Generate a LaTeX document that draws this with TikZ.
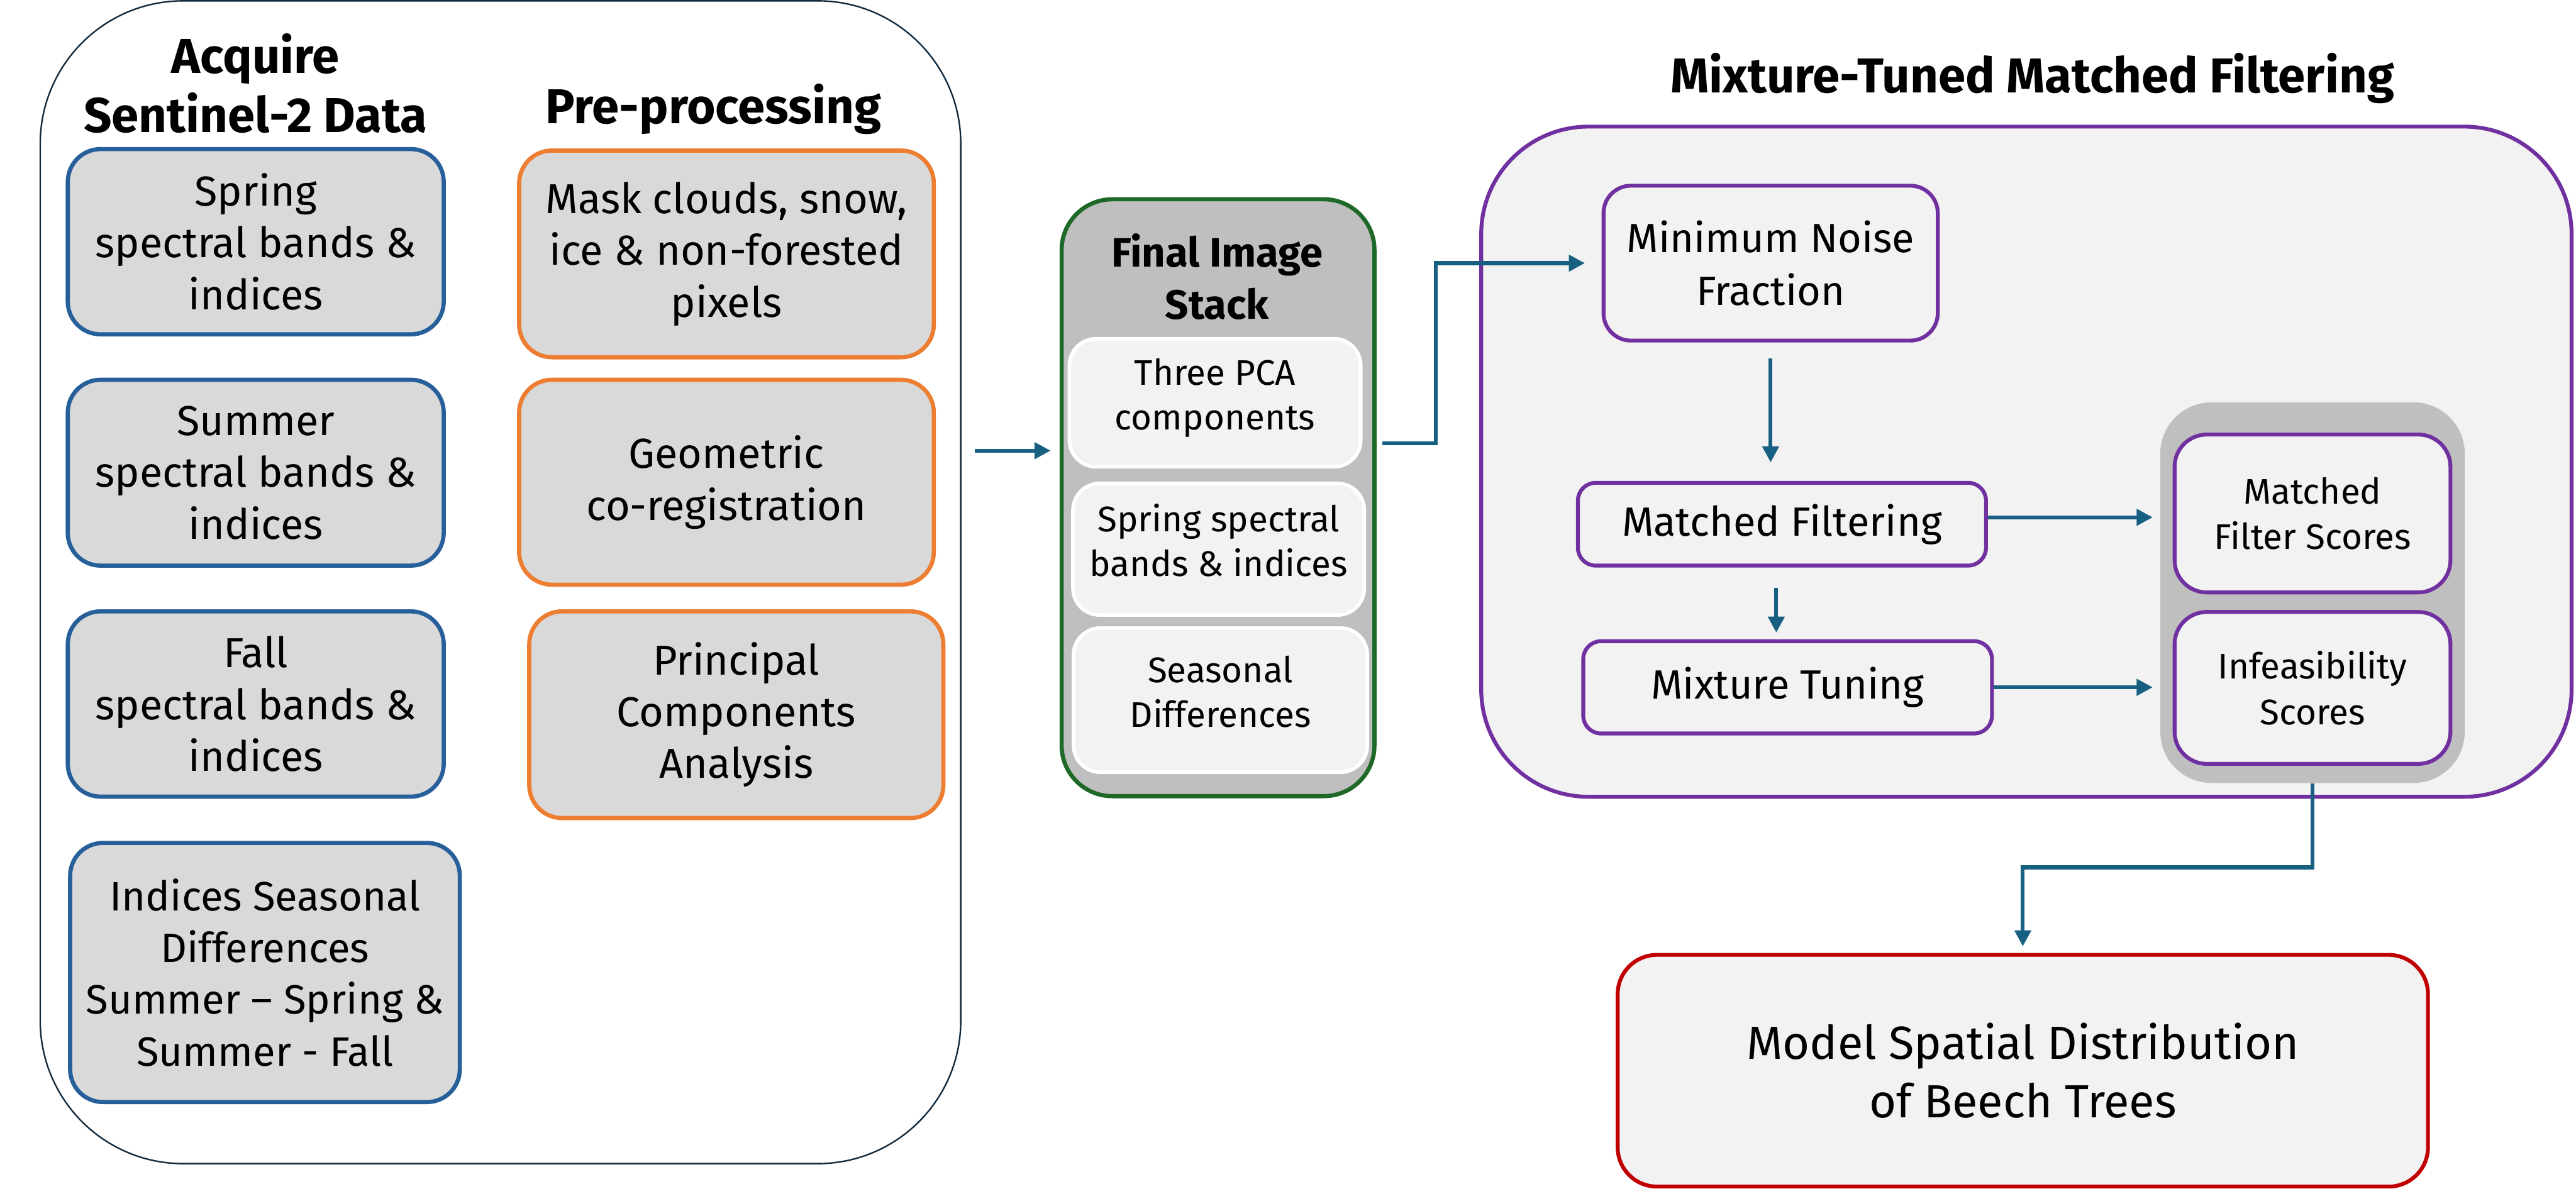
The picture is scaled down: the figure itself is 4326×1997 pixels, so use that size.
\documentclass[tikz,border=0pt]{standalone}
\usepackage{fontspec}
\setmainfont{Fira Sans}
\usetikzlibrary{arrows.meta}
\definecolor{bblue}{RGB}{38,95,153}
\definecolor{borange}{RGB}{237,125,49}
\definecolor{lgray}{RGB}{217,217,217}
\definecolor{mgray}{RGB}{191,191,191}
\definecolor{pale}{RGB}{242,242,242}
\definecolor{bgreen}{RGB}{30,105,40}
\definecolor{bpurple}{RGB}{112,48,160}
\definecolor{bred}{RGB}{192,0,0}
\definecolor{arrowc}{RGB}{24,96,130}
\definecolor{navy}{RGB}{18,42,62}
\tikzset{
  box/.style={inner sep=0pt, align=center, rounded corners=0.55cm},
  inbox/.style={box, draw=bblue, fill=lgray, line width=0.07cm, font=\fontsize{20pt}{24.75pt}\selectfont},
  prebox/.style={box, draw=borange, fill=lgray, line width=0.07cm, font=\fontsize{20pt}{24.75pt}\selectfont},
  stackitem/.style={box, rounded corners=0.45cm, draw=white, fill=pale, line width=0.06cm, font=\fontsize{17pt}{21.3pt}\selectfont},
  mtbox/.style={box, draw=bpurple, fill=pale, line width=0.065cm, rounded corners=0.46cm, font=\fontsize{19.5pt}{25.3pt}\selectfont},
  scorebox/.style={box, draw=bpurple, fill=pale, line width=0.065cm, rounded corners=0.54cm, font=\fontsize{17pt}{21.9pt}\selectfont},
  titletext/.style={font=\bfseries\fontsize{23.4pt}{28.5pt}\selectfont, align=center, inner sep=0pt},
  arr/.style={draw=arrowc, line width=0.064cm, -{Triangle[length=0.27cm,width=0.27cm]}},
}
\begin{document}
\begin{tikzpicture}[x=0.01cm,y=-0.01cm]
\useasboundingbox (0,0) rectangle (4326,1997);
% left container
\node[draw=navy, line width=0.025cm, rounded corners=2.4cm, minimum width=15.45cm, minimum height=19.52cm, inner sep=0pt] (outer) at (840.5,978) {};
\node[titletext] (acq) at (429,140) {Acquire\\Sentinel-2 Data};
\node[titletext, anchor=base] (pre) at (1198,208) {Pre-processing};
\node[inbox, minimum width=6.31cm, minimum height=3.11cm] (spring) at (429.5,406) {Spring\\spectral bands \&\\indices};
\node[inbox, minimum width=6.31cm, minimum height=3.12cm] (summer) at (429.5,794) {Summer\\spectral bands \&\\indices};
\node[inbox, minimum width=6.31cm, minimum height=3.11cm] (fall) at (429.5,1182.5) {Fall\\spectral bands \&\\indices};
\node[inbox, minimum width=6.54cm, minimum height=4.35cm, font=\fontsize{19.6pt}{24.75pt}\selectfont] (indices) at (445,1633.5) {Indices Seasonal\\Differences\\Summer – Spring \&\\Summer - Fall};
\node[prebox, minimum width=6.96cm, minimum height=3.47cm] (mask) at (1220,426.5) {Mask clouds, snow,\\ice \& non-forested\\pixels};
\node[prebox, minimum width=6.96cm, minimum height=3.44cm] (geom) at (1220,810) {Geometric\\co-registration};
\node[prebox, minimum width=6.95cm, minimum height=3.47cm] (pca) at (1236.5,1200.5) {Principal\\Components\\Analysis};
% final image stack
\node[draw=bgreen, fill=mgray, line width=0.07cm, rounded corners=0.85cm, minimum width=5.25cm, minimum height=10.02cm, inner sep=0pt] (stack) at (2045.5,836) {};
\node[font=\bfseries\fontsize{19.6pt}{24.75pt}\selectfont, align=center, inner sep=0pt] (stacktitle) at (2044,465) {Final Image\\Stack};
\node[stackitem, minimum width=4.89cm, minimum height=2.15cm] (s1) at (2040.5,676.5) {Three PCA\\components\\[-0.45cm]\mbox{}};
\node[stackitem, minimum width=4.89cm, minimum height=2.21cm] (s2) at (2046.5,922.5) {Spring spectral\\bands \& indices\\[-0.45cm]\mbox{}};
\node[stackitem, minimum width=4.93cm, minimum height=2.42cm] (s3) at (2049.5,1176) {Seasonal\\Differences\\[-0.45cm]\mbox{}};
% MTMF
\node[draw=bpurple, fill=pale, line width=0.065cm, rounded corners=1.8cm, minimum width=18.30cm, minimum height=11.25cm, inner sep=0pt] (mtmf) at (3403,775.5) {};
\node[titletext, anchor=base] (mtmftitle) at (3413,156) {Mixture-Tuned Matched Filtering};
\node[mtbox, minimum width=5.61cm, minimum height=2.60cm] (mnf) at (2973.5,442) {Minimum Noise\\Fraction};
\node[mtbox, rounded corners=0.3cm, minimum width=6.85cm, minimum height=1.39cm] (mf) at (2992.5,880.5) {Matched Filtering};
\node[mtbox, rounded corners=0.3cm, minimum width=6.86cm, minimum height=1.55cm] (mt) at (3002,1154.5) {Mixture Tuning};
\node[fill=mgray, rounded corners=0.86cm, minimum width=5.11cm, minimum height=6.39cm, inner sep=0pt] (group) at (3883.5,995.5) {};
\node[scorebox, minimum width=4.63cm, minimum height=2.65cm] (mfs) at (3883.5,862.5) {Matched\\Filter Scores};
\node[scorebox, minimum width=4.63cm, minimum height=2.55cm] (inf) at (3883.5,1155.5) {Infeasibility\\Scores};
% model
\node[box, draw=bred, fill=pale, line width=0.065cm, rounded corners=0.66cm, minimum width=13.60cm, minimum height=3.89cm, font=\fontsize{22.2pt}{27.9pt}\selectfont] (model) at (3397,1798.5) {Model Spatial Distribution\\of Beech Trees};
% connectors
\coordinate (inA) at (1637,757);
\draw[arr, shorten >=0.15cm] (inA) -- (inA -| stack.west);
\draw[arr, shorten <=0.1cm, shorten >=0.28cm] ([yshift=0.91cm]stack.east) -- ++(0.99cm,0) |- (mnf.west);
\draw[arr, shorten <=0.27cm, shorten >=0.31cm] (mnf.south) -- (mnf.south |- mf.north);
\draw[arr, shorten <=0.34cm, shorten >=0.11cm] ([xshift=-0.095cm]mf.south) -- ([xshift=-0.095cm]mf.south |- mt.north);
\draw[arr, shorten >=0.12cm] ([yshift=0.115cm]mf.east) -- ([yshift=0.115cm]mf.east -| group.west);
\draw[arr, shorten >=0.12cm] (mt.east) -- (mt.east -| group.west);
\draw[arr, shorten >=0.11cm] (group.south) -- ++(0,-1.41cm) -| (model.north);
\end{tikzpicture}
\end{document}
